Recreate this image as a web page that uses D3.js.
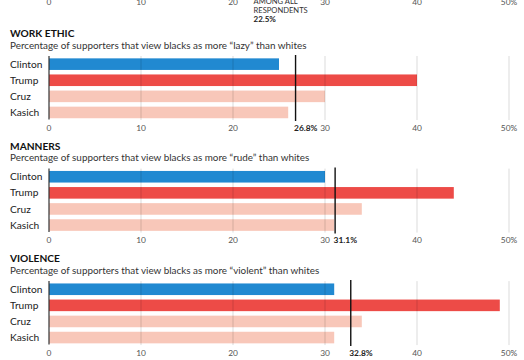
<!DOCTYPE html>
<html><head><meta charset="utf-8">
<script src="https://cdn.jsdelivr.net/npm/d3@7"></script>
<style>
html,body{margin:0;padding:0;background:#fff;}
svg{display:block;font-family:Lato,"Open Sans",sans-serif;}
</style></head>
<body>
<svg id="chart" width="524" height="360"></svg>
<script>
const candidates = ["Clinton", "Trump", "Cruz", "Kasich"];
const panelTitles = ["WORK ETHIC", "MANNERS", "VIOLENCE"];
const panelWords = ["lazy", "rude", "violent"];
const workEthic = [25, 40, 30, 26];
const manners = [30, 44, 34, 31];
const violence = [31, 49, 34, 31];
const allRespondents = [26.8, 31.1, 32.8];
const topPanelAll = 22.5;
const tickValues = [0, 10, 20, 30, 40, 50];
const colors = ["#2189d1", "#ed4b47", "#f8c7b9", "#f8c7b9"];

const svg = d3.select("#chart");
const x = d3.scaleLinear().domain([0, 50]).range([49, 509]);
const fmt = d => d === 50 ? "50%" : String(d);

// Cut-off panel at the top (only its axis labels and annotation are visible)
const topG = svg.append("g");
topG.selectAll("text.tick").data(tickValues).join("text")
  .attr("x", d => x(d)).attr("y", 4.5)
  .attr("text-anchor", "middle").attr("font-size", 8.4).attr("fill", "#555")
  .text(fmt);
const annoLines = ["AMONG ALL", "RESPONDENTS"];
topG.selectAll("text.anno").data(annoLines).join("text")
  .attr("x", x(topPanelAll) - 2.5).attr("y", (d, i) => 4 + i * 9.4)
  .attr("font-size", 7.6).attr("fill", "#333").text(d => d);
topG.append("text").attr("x", x(topPanelAll) - 2.5).attr("y", 22)
  .attr("font-size", 8).attr("font-weight", "bold").attr("fill", "#222")
  .text(topPanelAll + "%");

const datasets = [workEthic, manners, violence];
const tops = [25, 137.6, 250.1];

datasets.forEach((vals, p) => {
  const g = svg.append("g").attr("transform", `translate(0,${tops[p]})`);
  g.append("text").attr("x", 10).attr("y", 12).attr("font-size", 10.2)
    .attr("font-weight", "bold").attr("fill", "#111").text(panelTitles[p]);
  g.append("text").attr("x", 10).attr("y", 23.5).attr("font-size", 9.9)
    .attr("fill", "#333")
    .text(`Percentage of supporters that view blacks as more \u201c${panelWords[p]}\u201d than whites`);

  const y = d3.scaleBand().domain(candidates).range([31.1, 31.1 + 64.4])
    .paddingInner(0.28).paddingOuter(0.14);

  const rows = candidates.map((c, i) => ({c, v: vals[i], col: colors[i]}));
  g.selectAll("rect.bar").data(rows).join("rect")
    .attr("x", x(0)).attr("y", d => y(d.c))
    .attr("width", d => x(d.v) - x(0)).attr("height", y.bandwidth())
    .attr("fill", d => d.col);

  // gridlines
  g.selectAll("line.grid").data(tickValues.slice(1)).join("line")
    .attr("x1", d => x(d)).attr("x2", d => x(d))
    .attr("y1", 31).attr("y2", 95)
    .attr("stroke", "#000").attr("stroke-opacity", 0.14).attr("stroke-width", 1);

  // zero axis
  g.append("line").attr("x1", x(0)).attr("x2", x(0)).attr("y1", 31).attr("y2", 94.5)
    .attr("stroke", "#333").attr("stroke-width", 1.2);

  // category labels
  g.selectAll("text.cat").data(candidates).join("text")
    .attr("x", 10).attr("y", d => y(d) + y.bandwidth() / 2)
    .attr("dy", "0.35em").attr("font-size", 10.2).attr("fill", "#222").text(d => d);

  // tick labels
  g.selectAll("text.tick").data(tickValues).join("text")
    .attr("x", d => x(d)).attr("y", 105.5)
    .attr("text-anchor", "middle").attr("font-size", 8.4).attr("fill", "#555")
    .text(fmt);

  // all-respondents reference line
  const av = allRespondents[p];
  g.append("line").attr("x1", x(av)).attr("x2", x(av)).attr("y1", 30).attr("y2", 96)
    .attr("stroke", "#111").attr("stroke-width", 1.4);
  g.append("text").attr("x", x(av) - 1.5).attr("y", 105.5)
    .attr("font-size", 8.4).attr("font-weight", "bold").attr("fill", "#222")
    .text(av + "%");
});
</script>
</body></html>
